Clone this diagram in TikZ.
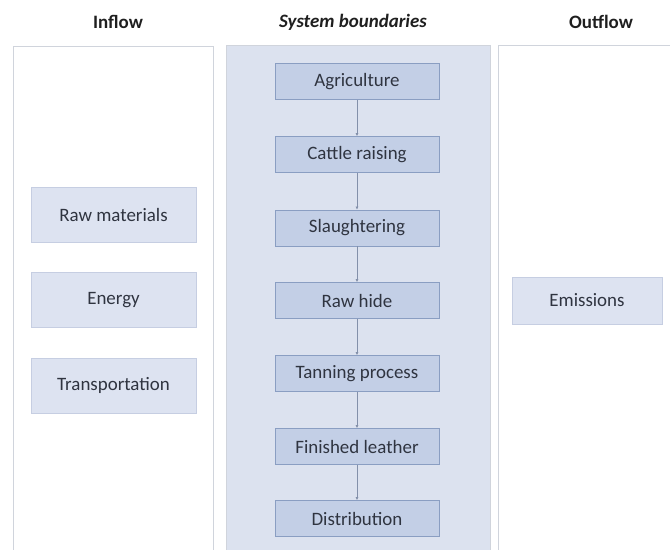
\documentclass[tikz,border=0pt]{standalone}
\usepackage{fontspec}
\setmainfont{Carlito}
\usetikzlibrary{arrows.meta}
\definecolor{panelfill}{HTML}{DCE2EF}
\definecolor{panelline}{HTML}{D0D4DC}
\definecolor{procfill}{HTML}{C3CFE6}
\definecolor{procline}{HTML}{8A9EC2}
\definecolor{flowfill}{HTML}{DDE3F1}
\definecolor{flowline}{HTML}{C6CEE2}
\definecolor{txt}{HTML}{2F3440}
\definecolor{conn}{HTML}{8390AA}
\tikzset{
  panel/.style={draw=panelline, line width=0.8bp},
  proc/.style={draw=procline, fill=procfill, line width=0.9bp, minimum width=164bp, minimum height=36bp, inner sep=0pt, text=txt, font=\fontsize{19}{22}\selectfont},
  flowbox/.style={draw=flowline, fill=flowfill, line width=0.8bp, minimum width=165bp, minimum height=55bp, inner sep=0pt, text=txt, font=\fontsize{19}{22}\selectfont},
  title/.style={text=black!88, font=\fontsize{19}{22}\selectfont\bfseries},
  link/.style={draw=conn, line width=0.9bp, -{Latex[length=3bp,width=3bp]}}
}
\begin{document}
\begin{tikzpicture}[x=1bp,y=-1bp]
\useasboundingbox (0,0) rectangle (670,550);
% panels
\draw[panel] (13,46) rectangle (213,556);
\draw[panel, fill=panelfill] (226,45) rectangle (490,556);
\draw[panel] (498,45) rectangle (676,556);
% titles
\node[title] (tin) at (118,22) {Inflow};
\node[title] (tsys) at (353,22) {\itshape System boundaries};
\node[title] (tout) at (601,22) {Outflow};
% process chain
\node[proc] (agr) at (357,81.5) {Agriculture};
\node[proc] (cat) at (357,154.5) {Cattle raising};
\node[proc] (sla) at (357,228) {Slaughtering};
\node[proc] (raw) at (357,300.5) {Raw hide};
\node[proc] (tan) at (357,373.5) {Tanning process};
\node[proc] (fin) at (357,446.5) {Finished leather};
\node[proc] (dis) at (357,518.5) {Distribution};
\draw[link] (agr) -- (cat);
\draw[link] (cat) -- (sla);
\draw[link] (sla) -- (raw);
\draw[link] (raw) -- (tan);
\draw[link] (tan) -- (fin);
\draw[link] (fin) -- (dis);
% inflow
\node[flowbox] (rm) at (113.5,215) {Raw materials};
\node[flowbox] (en) at (113.5,300) {Energy};
\node[flowbox] (tr) at (113.5,385.5) {Transportation};
% outflow
\node[flowbox, minimum width=150bp, minimum height=47bp] (em) at (587,300.5) {Emissions};
\end{tikzpicture}
\end{document}
